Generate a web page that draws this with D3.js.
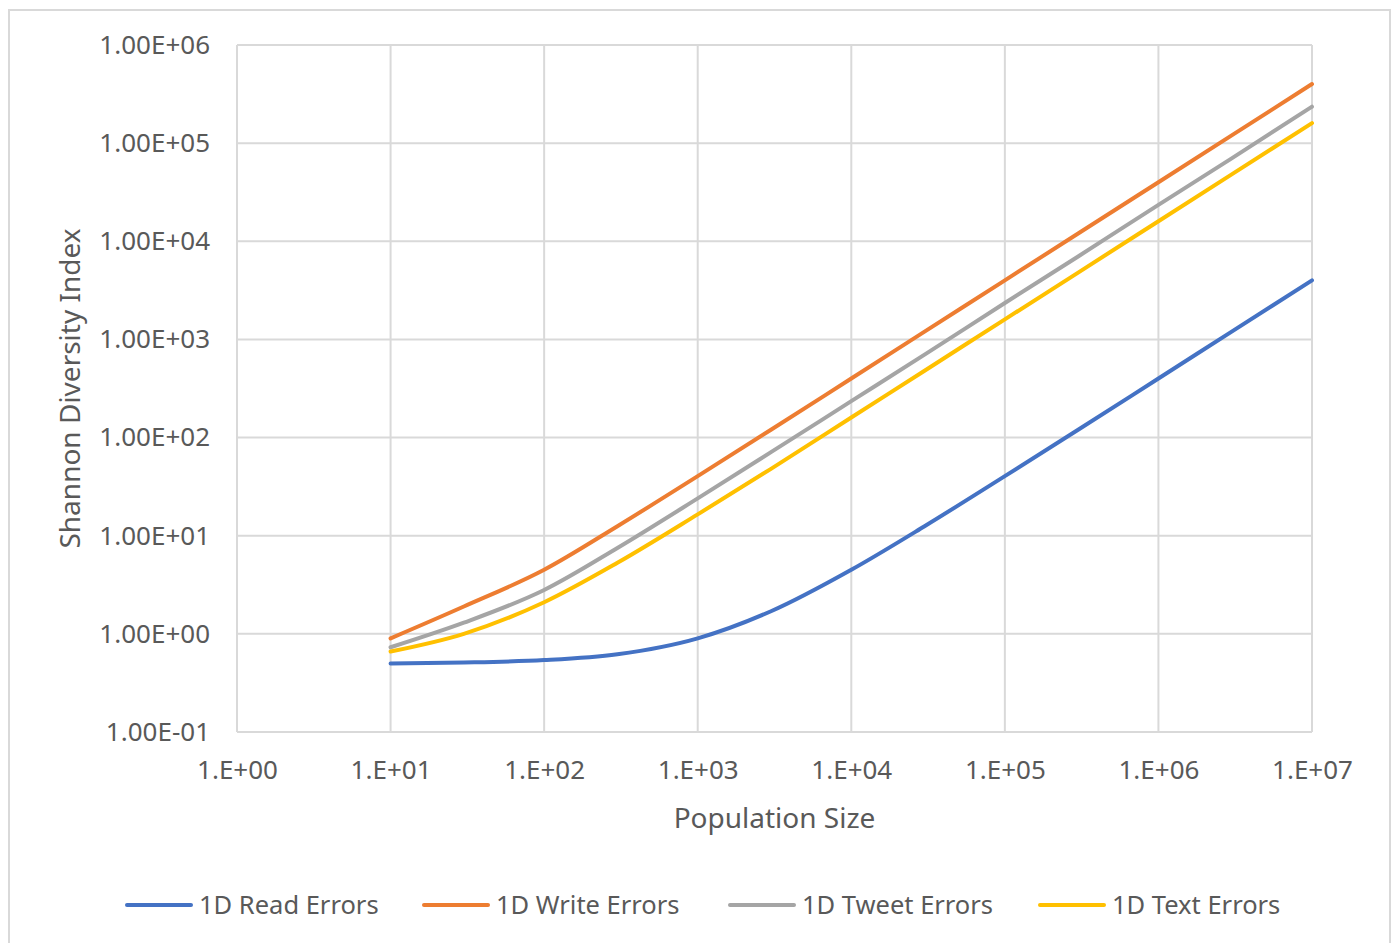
<!DOCTYPE html>
<html>
<head>
<meta charset="utf-8">
<script src="https://cdn.jsdelivr.net/npm/d3@7"></script>
<style>
  body { margin: 0; background: #fff; }
  svg text { font-family: "Noto Sans", "Open Sans", sans-serif; fill: #595959; }
</style>
</head>
<body>
<svg width="1393" height="943"></svg>
<script>
// population sizes (x)
var popSizes = [10, 30, 100, 300, 1000, 3000, 1e4, 3e4, 1e5, 3e5, 1e6, 3e6, 1e7];

// Shannon diversity index per series
var readErrors  = [0.50, 0.51, 0.54, 0.62, 0.90, 1.7, 4.5, 12.5, 40.5, 120, 400, 1200, 4000];
var writeErrors = [0.90, 1.9, 4.5, 12.5, 40.5, 120, 400, 1200, 4000, 12000, 40000, 120000, 400000];
var tweetErrors = [0.73, 1.3, 2.8, 7.5, 24, 71, 235, 700, 2350, 7000, 23500, 70000, 235000];
var textErrors  = [0.66, 1.0, 2.1, 5.3, 16.5, 48, 160, 480, 1600, 4800, 16000, 48000, 160000];

var seriesNames = ["1D Read Errors", "1D Write Errors", "1D Tweet Errors", "1D Text Errors"];
var seriesColors = ["#4472C4", "#ED7D31", "#A5A5A5", "#FFC000"];
var seriesValues = [readErrors, writeErrors, tweetErrors, textErrors];

var xTicks = [1, 10, 100, 1e3, 1e4, 1e5, 1e6, 1e7];
var xTickLabels = ["1.E+00", "1.E+01", "1.E+02", "1.E+03", "1.E+04", "1.E+05", "1.E+06", "1.E+07"];
var yTicks = [0.1, 1, 10, 100, 1e3, 1e4, 1e5, 1e6];
var yTickLabels = ["1.00E-01", "1.00E+00", "1.00E+01", "1.00E+02", "1.00E+03", "1.00E+04", "1.00E+05", "1.00E+06"];

var svg = d3.select("svg");

// outer chart frame
svg.append("rect")
    .attr("x", 9).attr("y", 10)
    .attr("width", 1381).attr("height", 945)
    .attr("fill", "none")
    .attr("stroke", "#D9D9D9")
    .attr("stroke-width", 2);

var plot = {left: 237, top: 45, right: 1312, bottom: 732};

var x = d3.scaleLog().domain([1, 1e7]).range([plot.left, plot.right]);
var y = d3.scaleLog().domain([0.1, 1e6]).range([plot.bottom, plot.top]);

// gridlines
svg.append("g")
    .selectAll("line.vg")
    .data(xTicks)
    .enter().append("line")
    .attr("x1", function(d){ return x(d); })
    .attr("x2", function(d){ return x(d); })
    .attr("y1", plot.top).attr("y2", plot.bottom)
    .attr("stroke", "#D9D9D9").attr("stroke-width", 2);

svg.append("g")
    .selectAll("line.hg")
    .data(yTicks)
    .enter().append("line")
    .attr("x1", plot.left).attr("x2", plot.right)
    .attr("y1", function(d){ return y(d); })
    .attr("y2", function(d){ return y(d); })
    .attr("stroke", "#D9D9D9").attr("stroke-width", 2);

// X axis labels
var xAxis = d3.axisBottom(x)
    .tickValues(xTicks)
    .tickFormat(function(d, i){ return xTickLabels[i]; })
    .tickSize(0);
var gx = svg.append("g")
    .attr("transform", "translate(0," + plot.bottom + ")")
    .call(xAxis);
gx.select(".domain").remove();
gx.selectAll("text")
    .style("font-size", "26px")
    .attr("dy", "0.35em")
    .attr("y", 38);

// Y axis labels
var yAxis = d3.axisLeft(y)
    .tickValues(yTicks)
    .tickFormat(function(d, i){ return yTickLabels[i]; })
    .tickSize(0).tickPadding(27);
var gy = svg.append("g")
    .attr("transform", "translate(" + plot.left + ",0)")
    .call(yAxis);
gy.select(".domain").remove();
gy.selectAll("text").style("font-size", "26px");

// series lines
var line = d3.line()
    .x(function(d){ return x(d[0]); })
    .y(function(d){ return y(d[1]); })
    .curve(d3.curveMonotoneX);

seriesValues.forEach(function(vals, i){
    svg.append("path")
        .datum(popSizes.map(function(p, j){ return [p, vals[j]]; }))
        .attr("d", line)
        .attr("fill", "none")
        .attr("stroke", seriesColors[i])
        .attr("stroke-width", 4)
        .attr("stroke-linecap", "round");
});

// axis titles
svg.append("text")
    .attr("x", (plot.left + plot.right) / 2)
    .attr("y", 828)
    .attr("text-anchor", "middle")
    .style("font-size", "28px")
    .text("Population Size");

svg.append("text")
    .attr("transform", "translate(80," + (plot.top + plot.bottom) / 2 + ") rotate(-90)")
    .attr("text-anchor", "middle")
    .style("font-size", "28px")
    .text("Shannon Diversity Index");

// legend
var legendX = [127, 424, 730, 1040];
var leg = svg.append("g").selectAll("g")
    .data(seriesNames)
    .enter().append("g")
    .attr("transform", function(d, i){ return "translate(" + legendX[i] + ",905)"; });
leg.append("line")
    .attr("x1", 0).attr("x2", 64)
    .attr("stroke", function(d, i){ return seriesColors[i]; })
    .attr("stroke-width", 4)
    .attr("stroke-linecap", "round");
leg.append("text")
    .attr("x", 72)
    .attr("dy", "0.35em")
    .style("font-size", "25.5px")
    .text(function(d){ return d; });
</script>
</body>
</html>
